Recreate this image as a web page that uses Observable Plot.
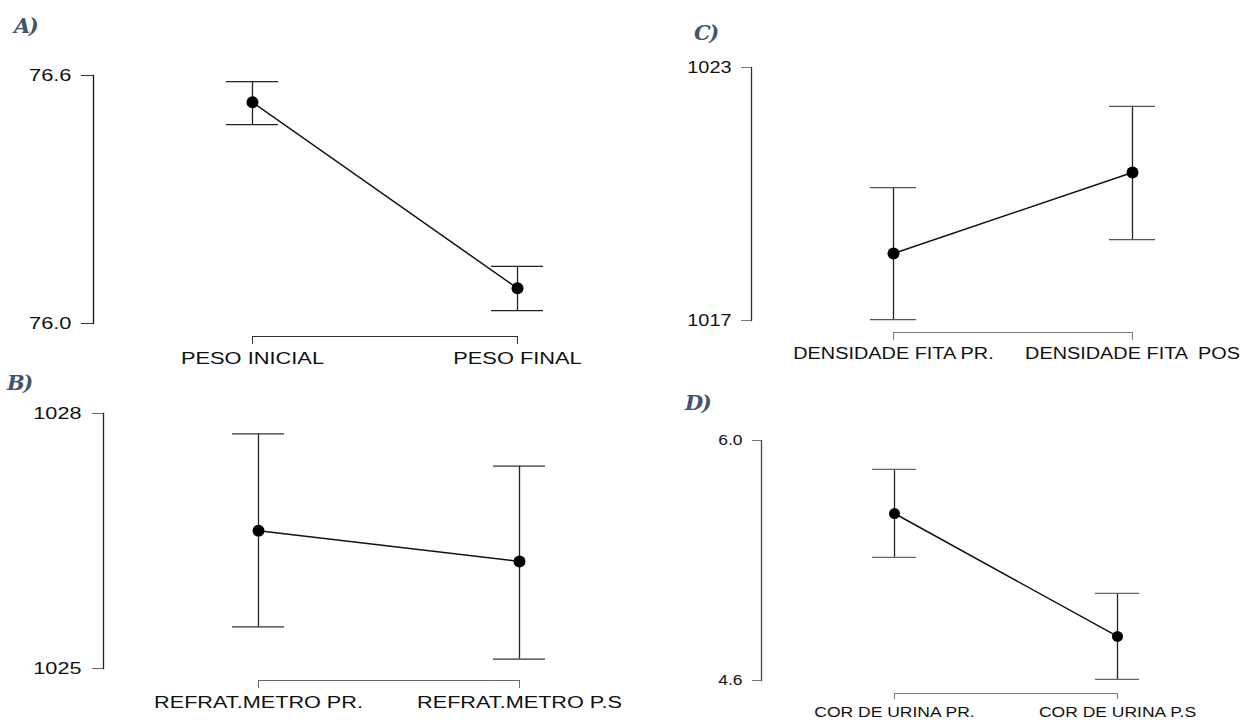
<!DOCTYPE html>
<html><head><meta charset="utf-8">
<script src="https://cdn.jsdelivr.net/npm/d3@7"></script>
<script src="https://cdn.jsdelivr.net/npm/@observablehq/plot@0.6"></script>
<style>
html,body{margin:0;padding:0;background:#fff;}
#root{position:relative;width:1246px;height:720px;overflow:hidden;background:#fff;}
.panel{position:absolute;}
.ttl{position:absolute;font-family:"DejaVu Serif","Liberation Serif",serif;font-weight:bold;font-style:italic;font-size:21px;color:#44546a;line-height:1;letter-spacing:-1.5px;}
svg text{white-space:pre;}
</style></head><body><div id="root"></div>
<script>
// ---- Data ----
const catsA = ["PESO INICIAL", "PESO FINAL"];
const meanA = [76.535, 76.085];
const loA   = [76.481, 76.031];
const hiA   = [76.585, 76.138];
const ticksA = [76.0, 76.6];

const catsB = ["REFRAT.METRO PR.", "REFRAT.METRO P.S"];
const meanB = [1026.62, 1026.26];
const loB   = [1025.49, 1025.11];
const hiB   = [1027.76, 1027.38];
const ticksB = [1025, 1028];

const catsC = ["DENSIDADE FITA PR.", "DENSIDADE FITA  POS"];
const meanC = [1018.59, 1020.51];
const loC   = [1017.02, 1018.92];
const hiC   = [1020.15, 1022.08];
const ticksC = [1017, 1023];

const catsD = ["COR DE URINA PR.", "COR DE URINA P.S"];
const meanD = [5.574, 4.857];
const loD   = [5.318, 4.606];
const hiD   = [5.831, 5.108];
const ticksD = [4.6, 6.0];

const titles = ["A)", "B)", "C)", "D)"];

const root = document.getElementById("root");

function panel(o) {
  const data = o.cats.map((c, i) => ({cat: c, mean: o.mean[i], lo: o.lo[i], hi: o.hi[i]}));
  const bracket = [{y: o.yTicks[0], a: o.cats[0], b: o.cats[o.cats.length - 1]}];
  const chart = Plot.plot({
    width: o.width, height: o.height,
    marginLeft: o.marginLeft, marginTop: o.marginTop, marginBottom: o.marginBottom, marginRight: 0,
    style: {fontFamily: '"Liberation Sans", Arial, sans-serif', fontSize: o.fontSize + "px", color: "#111", background: "transparent", overflow: "visible"},
    x: {type: "point", domain: o.cats, range: o.xRange, padding: 0, label: null},
    y: {domain: [o.yTicks[0], o.yTicks[o.yTicks.length - 1]], label: null},
    marks: [
      Plot.frame({anchor: "left", stroke: o.axisColor, strokeWidth: 1.3}),
      Plot.axisY({ticks: o.yTicks, tickFormat: d3.format(o.fmt), tickSize: o.yTickSize, tickPadding: o.yTickPad, stroke: o.tickColor, fontSize: o.fontSize, label: null}),
      Plot.ruleY(bracket, {y: "y", x1: "a", x2: "b", dy: o.xdy, stroke: o.tickColor, strokeWidth: 1.2}),
      Plot.axisX({anchor: "bottom", tickSize: o.xTickSize, tickPadding: o.xTickPad, dy: o.xdy, stroke: o.tickColor, fontSize: o.xFontSize, label: null}),
      Plot.ruleX(data, {x: "cat", y1: "lo", y2: "hi", stroke: "#222", strokeWidth: 1.3}),
      Plot.ruleY(data, {y: "lo", x1: "cat", x2: "cat", insetLeft: -o.capHalf, insetRight: -o.capHalf, stroke: o.capColor, strokeWidth: 1.3}),
      Plot.ruleY(data, {y: "hi", x1: "cat", x2: "cat", insetLeft: -o.capHalf, insetRight: -o.capHalf, stroke: o.capColor, strokeWidth: 1.3}),
      Plot.line(data, {x: "cat", y: "mean", stroke: "#111", strokeWidth: 1.5}),
      Plot.dot(data, {x: "cat", y: "mean", r: o.r, fill: "#000", stroke: "none"})
    ]
  });
  const div = document.createElement("div");
  div.className = "panel";
  div.style.left = o.left + "px";
  div.style.top = o.top + "px";
  div.appendChild(chart);
  root.appendChild(div);
  // horizontally stretch glyphs to match the reference's wide lettering
  chart.querySelectorAll("text").forEach(t => {
    const L = t.getComputedTextLength();
    if (L > 0) {
      t.setAttribute("textLength", (L * o.stretch).toFixed(1));
      t.setAttribute("lengthAdjust", "spacingAndGlyphs");
    }
  });
  const tt = document.createElement("div");
  tt.className = "ttl";
  tt.textContent = o.title;
  tt.style.left = o.tx + "px";
  tt.style.top = o.ty + "px";
  root.appendChild(tt);
}

panel({title: titles[0], tx: 14, ty: 15,
  left: 0, top: 0, width: 620, height: 370, marginLeft: 93, marginTop: 75, marginBottom: 47,
  xRange: [252, 517], cats: catsA, mean: meanA, lo: loA, hi: hiA, yTicks: ticksA, fmt: ".1f",
  fontSize: 16.3, xFontSize: 16.3, yTickSize: 12, yTickPad: 10, xdy: 13, xTickSize: 8, xTickPad: 8,
  capHalf: 26, r: 6, stretch: 1.34, axisColor: "#111", tickColor: "#333", capColor: "#222"});

panel({title: titles[1], tx: 7, ty: 372,
  left: 0, top: 370, width: 620, height: 350, marginLeft: 103, marginTop: 43, marginBottom: 52,
  xRange: [258, 519], cats: catsB, mean: meanB, lo: loB, hi: hiB, yTicks: ticksB, fmt: "d",
  fontSize: 16.3, xFontSize: 16.3, yTickSize: 11, yTickPad: 11, xdy: 12, xTickSize: 8, xTickPad: 8,
  capHalf: 26, r: 6, stretch: 1.33, axisColor: "#222", tickColor: "#666", capColor: "#333"});

panel({title: titles[2], tx: 694, ty: 22,
  left: 620, top: 0, width: 626, height: 370, marginLeft: 131, marginTop: 67, marginBottom: 50,
  xRange: [273, 512], cats: catsC, mean: meanC, lo: loC, hi: hiC, yTicks: ticksC, fmt: "d",
  fontSize: 16.3, xFontSize: 16.3, yTickSize: 10, yTickPad: 10, xdy: 12, xTickSize: 8, xTickPad: 7,
  capHalf: 23, r: 6, stretch: 1.22, axisColor: "#333", tickColor: "#777", capColor: "#555"});

panel({title: titles[3], tx: 685, ty: 392,
  left: 620, top: 370, width: 626, height: 350, marginLeft: 141, marginTop: 70, marginBottom: 40,
  xRange: [274, 497], cats: catsD, mean: meanD, lo: loD, hi: hiD, yTicks: ticksD, fmt: ".1f",
  fontSize: 14, xFontSize: 14, yTickSize: 9, yTickPad: 10, xdy: 13, xTickSize: 6, xTickPad: 8,
  capHalf: 22, r: 5.5, stretch: 1.25, axisColor: "#444", tickColor: "#777", capColor: "#666"});
</script></body></html>
